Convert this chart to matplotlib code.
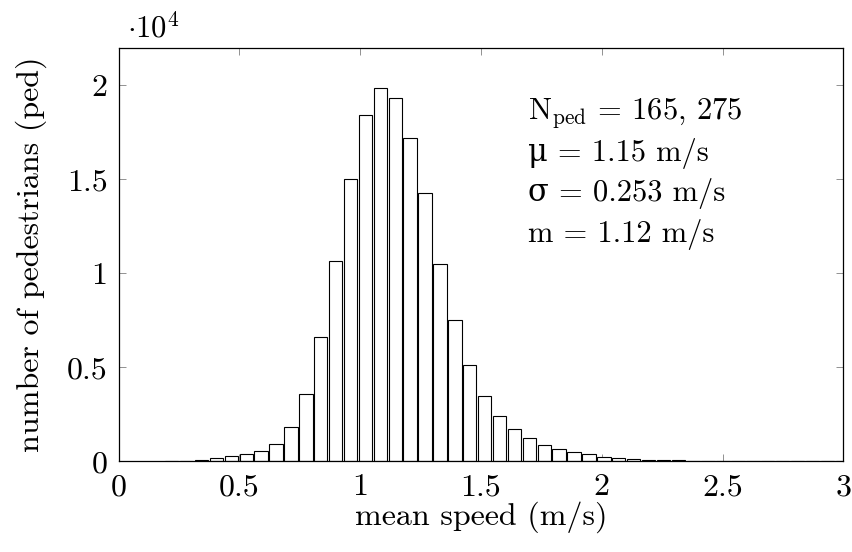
import numpy as np
import matplotlib.pyplot as plt

# histogram of mean pedestrian speeds (counts per bin)
bin_first_left = 0.1886   # m/s, left edge of first bin
bin_width = 0.0617        # m/s
counts = [10, 20, 50, 150, 270, 370, 540, 920, 1810, 3580,
          6590, 10660, 15040, 18440, 19880, 19310, 17180, 14280, 10470, 7490,
          5100, 3490, 2420, 1720, 1250, 870, 670, 490, 380, 240,
          170, 130, 95, 65, 50, 40, 35, 30, 25, 20,
          15, 12, 10, 8, 6, 5]

x_ticks = [0, 0.5, 1, 1.5, 2, 2.5, 3]
y_ticks = [0, 0.5, 1, 1.5, 2]

stats_lines = ["N$_{\\mathrm{ped}}$ = 165, 275",
               "\u03bc = 1.15 m/s",
               "\u03c3 = 0.253 m/s",
               "m = 1.12 m/s"]

plt.rcParams['font.family'] = ['cmr10', 'DejaVu Serif']
plt.rcParams['mathtext.fontset'] = 'cm'
plt.rcParams['axes.unicode_minus'] = False
plt.rcParams['axes.formatter.use_mathtext'] = True

counts = np.array(counts, float)
centers = bin_first_left + bin_width * (np.arange(len(counts)) + 0.5)

fig = plt.figure(figsize=(8.53, 5.52), dpi=100)
ax = fig.add_axes([0.1392, 0.1643, 0.9886 - 0.1392, 0.9136 - 0.1643])

ax.bar(centers, counts / 1e4, width=bin_width * 0.9, color='white',
       edgecolor='black', linewidth=0.8, zorder=2)

ax.set_xlim(0, 3)
ax.set_ylim(0, 2.2)
ax.set_xticks(x_ticks)
ax.set_xticklabels([f"{t:g}" for t in x_ticks])
ax.set_yticks(y_ticks)
ax.set_yticklabels([f"{t:g}" for t in y_ticks])
ax.tick_params(direction='in', top=True, right=True, length=5, width=0.6,
               color='#808080', labelsize=23)
ax.tick_params(axis='x', pad=9)
ax.tick_params(axis='y', pad=8)
for s in ax.spines.values():
    s.set_linewidth(0.9)

ax.set_xlabel("mean speed (m/s)", fontsize=23, labelpad=0)
ax.set_ylabel("number of pedestrians (ped)", fontsize=23, labelpad=14)

ax.text(0.012, 1.012, "$\\cdot 10^{4}$", transform=ax.transAxes, fontsize=22,
        ha='left', va='bottom')

for i, line in enumerate(stats_lines):
    ax.text(0.565, 0.843 - i * 0.098, line, transform=ax.transAxes,
            fontsize=22, ha='left', va='center')

fig.savefig("out.png", dpi=100)
